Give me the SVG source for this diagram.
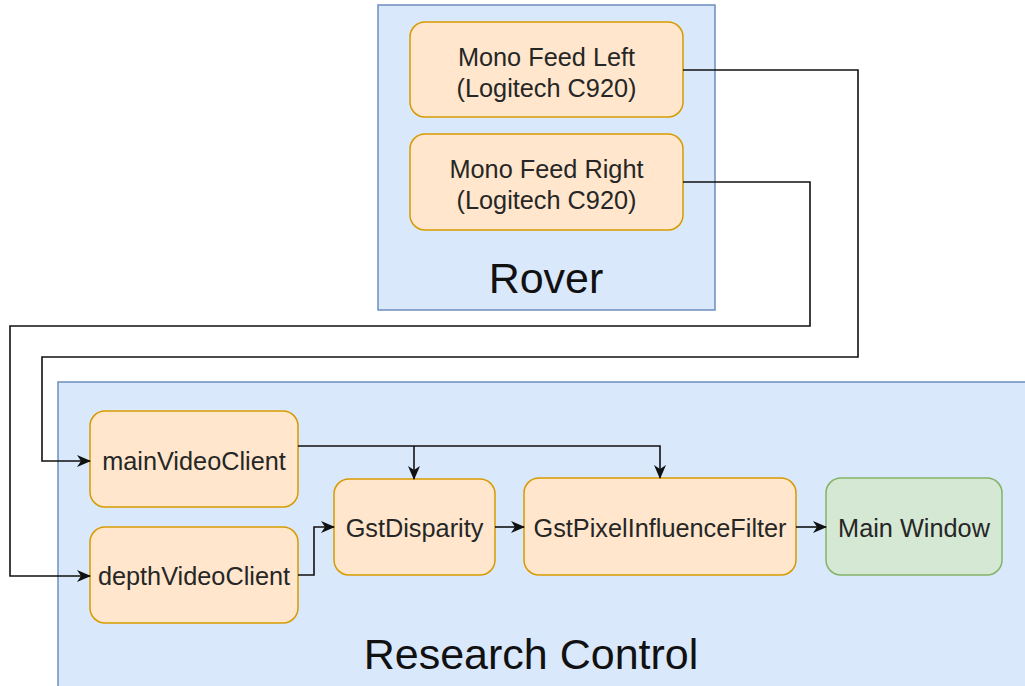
<svg xmlns="http://www.w3.org/2000/svg" width="1025" height="686" viewBox="0 0 1025 686">
<style>
.cont{fill:#dae8fc;stroke:#6c8ebf;stroke-width:1.5}
.node{fill:#ffe6cc;stroke:#d79b00;stroke-width:1.5}
.green{fill:#d5e8d4;stroke:#82b366;stroke-width:1.5}
.t{font-family:"Liberation Sans",Arial,sans-serif;font-size:25.3px;fill:#262626;text-anchor:middle}
.big{font-family:"Liberation Sans",Arial,sans-serif;font-size:43px;fill:#111;text-anchor:middle}
.c{fill:none;stroke:#111;stroke-width:1.6}
</style>
<defs>
<marker id="arr" markerUnits="userSpaceOnUse" markerWidth="14" markerHeight="12" viewBox="0 0 14 12" refX="13" refY="6" orient="auto">
<path d="M0,0 L14,6 L0,12 L4,6 z" fill="#111"/>
</marker>
</defs>
<g id="rover">
<rect class="cont" x="378" y="5" width="337" height="305"/>
<text class="big" x="546" y="293">Rover</text>
</g>
<g id="research-control">
<rect class="cont" x="58" y="382" width="980" height="320"/>
<text class="big" x="531" y="669">Research Control</text>
</g>
<g id="mono-left">
<rect class="node" x="410" y="22" width="273" height="95" rx="15"/>
<text class="t" x="546.5" y="66">Mono Feed Left</text>
<text class="t" x="546.5" y="97">(Logitech C920)</text>
</g>
<g id="mono-right">
<rect class="node" x="410" y="134" width="273" height="96" rx="15"/>
<text class="t" x="546.5" y="178">Mono Feed Right</text>
<text class="t" x="546.5" y="209">(Logitech C920)</text>
</g>
<g id="mainVideoClient">
<rect class="node" x="90" y="411" width="208" height="96" rx="15"/>
<text class="t" x="194" y="470">mainVideoClient</text>
</g>
<g id="depthVideoClient">
<rect class="node" x="90" y="527" width="208" height="96" rx="15"/>
<text class="t" x="194" y="585">depthVideoClient</text>
</g>
<g id="gstDisparity">
<rect class="node" x="334" y="479" width="161" height="96" rx="15"/>
<text class="t" x="414.5" y="537">GstDisparity</text>
</g>
<g id="gstPixelInfluenceFilter">
<rect class="node" x="524" y="478" width="272" height="97" rx="15"/>
<text class="t" x="660" y="537">GstPixelInfluenceFilter</text>
</g>
<g id="mainWindow">
<rect class="green" x="826" y="478" width="176" height="97" rx="15"/>
<text class="t" x="914" y="537">Main Window</text>
</g>
<g id="connectors">
<path class="c" d="M683,70 H858 V357 H42 V461 H90" marker-end="url(#arr)"/>
<path class="c" d="M683,182 H810 V326 H10 V576 H90" marker-end="url(#arr)"/>
<path class="c" d="M298,446 H660 V478" marker-end="url(#arr)"/>
<path class="c" d="M414,446 V479" marker-end="url(#arr)"/>
<path class="c" d="M298,575 H314 V527 H334" marker-end="url(#arr)"/>
<path class="c" d="M495,527 H524" marker-end="url(#arr)"/>
<path class="c" d="M796,527 H826" marker-end="url(#arr)"/>
</g>
</svg>
